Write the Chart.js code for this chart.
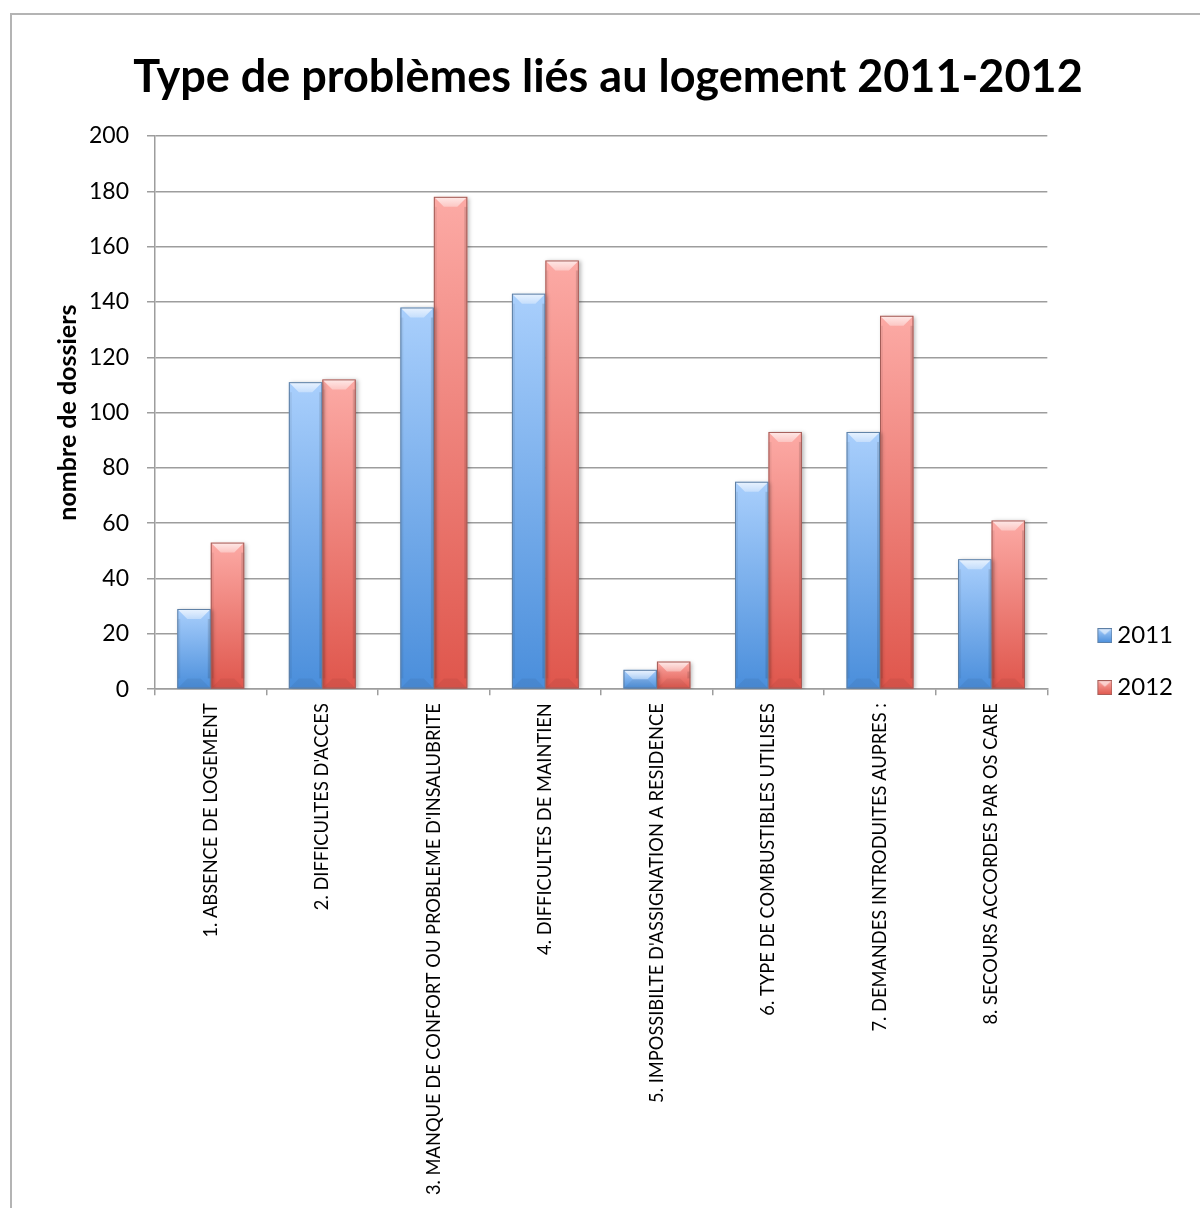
<!DOCTYPE html>
<html>
<head>
<meta charset="utf-8">
<script src="https://cdn.jsdelivr.net/npm/chart.js@4.4.1/dist/chart.umd.min.js"></script>
<style>
  html, body { margin: 0; padding: 0; background: #fff; overflow: hidden; }
  #frame {
    position: absolute; left: 10px; top: 13px;
    width: 1200px; height: 1200px;
    border-left: 2px solid #b4b4b4; border-top: 2px solid #b4b4b4;
  }
  #chart { position: absolute; left: 0; top: 0; }
</style>
</head>
<body>
<div id="frame"><canvas id="chart" width="1188" height="1193"></canvas></div>
<script>
const categories = [
    "1. ABSENCE DE LOGEMENT",
    "2. DIFFICULTES D'ACCES",
    "3. MANQUE DE CONFORT OU PROBLEME D'INSALUBRITE",
    "4. DIFFICULTES DE MAINTIEN",
    "5. IMPOSSIBILTE D'ASSIGNATION A RESIDENCE",
    "6. TYPE DE COMBUSTIBLES UTILISES",
    "7. DEMANDES INTRODUITES AUPRES :",
    "8. SECOURS ACCORDES PAR OS CARE"
];
const values2011 = [29, 111, 138, 143, 7, 75, 93, 47];
const values2012 = [53, 112, 178, 155, 10, 93, 135, 61];
const yTicks = [0, 20, 40, 60, 80, 100, 120, 140, 160, 180, 200];

const FONT = 'Lato, "Open Sans", sans-serif';
const GRID = '#9d9d9d';

// light top / dark bottom / outline for each series
const palette = {
    '2011': { top: '#a9cffc', bottom: '#4a8edb', edge: '#5d7fa5' },
    '2012': { top: '#fcaaa5', bottom: '#df564c', edge: '#a45d58' }
};

// vertical gradient per bar, computed from the bar's own value on the y scale
function barFill(ctx) {
    const c = palette[ctx.dataset.label];
    const chart = ctx.chart;
    if (!chart.chartArea || ctx.type !== 'data' || !chart.scales.y) return c.bottom;
    const top = chart.scales.y.getPixelForValue(ctx.raw);
    const base = chart.scales.y.getPixelForValue(0);
    if (!isFinite(top) || !isFinite(base) || base - top < 1) return c.bottom;
    const g = chart.ctx.createLinearGradient(0, top, 0, base);
    g.addColorStop(0, c.top);
    g.addColorStop(1, c.bottom);
    return g;
}

// bevelled square legend swatch, sitting at the right end of a wider transparent image
const SWATCH = 15, SWATCH_IMG = 44;
function legendSwatch(c) {
    const cv = document.createElement('canvas');
    cv.width = SWATCH_IMG; cv.height = SWATCH;
    const x = cv.getContext('2d');
    const ox = SWATCH_IMG - SWATCH, s = SWATCH;
    const g = x.createLinearGradient(0, 0, 0, s);
    g.addColorStop(0, c.top);
    g.addColorStop(1, c.bottom);
    x.fillStyle = g;
    x.fillRect(ox, 0, s, s);
    x.fillStyle = 'rgba(255,255,255,0.55)';
    x.beginPath();
    x.moveTo(ox, 0); x.lineTo(ox + s, 0); x.lineTo(ox + s / 2, s * 0.45);
    x.closePath(); x.fill();
    x.strokeStyle = c.edge;
    x.lineWidth = 1;
    x.strokeRect(ox + 0.5, 0.5, s - 1, s - 1);
    return cv;
}

// soft shadow behind the bars
const shadowPlugin = {
    id: 'barShadow',
    beforeDatasetsDraw(chart) {
        const ctx = chart.ctx;
        ctx.save();
        ctx.shadowColor = 'rgba(0,0,0,0.28)';
        ctx.shadowBlur = 4;
        ctx.shadowOffsetX = 2;
        ctx.shadowOffsetY = 1;
    },
    afterDatasetsDraw(chart) {
        chart.ctx.restore();
    }
};

// bevel facets on top of each bar
const bevelPlugin = {
    id: 'bevel',
    afterDatasetsDraw(chart) {
        const ctx = chart.ctx;
        chart.data.datasets.forEach((ds, di) => {
            const meta = chart.getDatasetMeta(di);
            const c = palette[ds.label];
            meta.data.forEach(bar => {
                const { x, y, base, width } = bar.getProps(['x', 'y', 'base', 'width'], true);
                const l = x - width / 2, r = x + width / 2;
                const h = base - y;
                if (h < 2) return;
                const d = Math.min(10, h / 2, width / 3);
                ctx.save();
                // top facet
                const tg = ctx.createLinearGradient(0, y, 0, y + d);
                tg.addColorStop(0, 'rgba(255,255,255,0.75)');
                tg.addColorStop(1, 'rgba(255,255,255,0.35)');
                ctx.fillStyle = tg;
                ctx.beginPath();
                ctx.moveTo(l, y); ctx.lineTo(r, y);
                ctx.lineTo(r - d, y + d); ctx.lineTo(l + d, y + d);
                ctx.closePath(); ctx.fill();
                // side facets
                ctx.fillStyle = 'rgba(0,0,0,0.06)';
                ctx.fillRect(l, y + d, 3, h - 2 * d);
                ctx.fillStyle = 'rgba(0,0,0,0.12)';
                ctx.fillRect(r - 3, y + d, 3, h - 2 * d);
                // bottom facet
                ctx.fillStyle = 'rgba(0,0,0,0.05)';
                ctx.beginPath();
                ctx.moveTo(l, base); ctx.lineTo(r, base);
                ctx.lineTo(r - d, base - d); ctx.lineTo(l + d, base - d);
                ctx.closePath(); ctx.fill();
                // outline
                ctx.strokeStyle = c.edge;
                ctx.lineWidth = 1;
                ctx.strokeRect(l + 0.5, y + 0.5, width - 1, h - 1);
                ctx.restore();
            });
        });
    }
};

const chart = new Chart(document.getElementById('chart'), {
    type: 'bar',
    data: {
        labels: categories,
        datasets: [
            { label: '2011', data: values2011, backgroundColor: barFill, borderWidth: 0 },
            { label: '2012', data: values2012, backgroundColor: barFill, borderWidth: 0 }
        ]
    },
    options: {
        responsive: false,
        animation: false,
        categoryPercentage: 0.6,
        barPercentage: 1.0,
        layout: { padding: { left: 21, right: 17, bottom: 5 } },
        scales: {
            x: {
                grid: { drawOnChartArea: false, tickLength: 6, color: GRID, lineWidth: 1.5 },
                border: { color: GRID, width: 1.5 },
                ticks: {
                    autoSkip: false, maxRotation: 90, minRotation: 90, padding: 8,
                    color: '#000', font: { family: FONT, size: 18.3 }
                }
            },
            y: {
                min: 0, max: 200,
                afterBuildTicks: s => { s.ticks = yTicks.map(v => ({ value: v })); },
                // fixed axis width: title + labels + tick marks
                afterFit: s => { s.width = 122; },
                grid: { color: GRID, lineWidth: 1.5, tickLength: 8 },
                border: { color: GRID, width: 1.5 },
                ticks: { color: '#000', padding: 18, font: { family: FONT, size: 23 } },
                title: {
                    display: true, text: 'nombre de dossiers', color: '#000',
                    font: { family: FONT, size: 25, weight: 'bold' }, padding: { top: 20, bottom: 4 }
                }
            }
        },
        plugins: {
            title: {
                display: true,
                text: 'Type de problèmes liés au logement 2011-2012',
                color: '#000',
                font: { family: FONT, size: 45, weight: 'bold' },
                padding: { top: 35, bottom: 32 }
            },
            legend: {
                position: 'right',
                title: { display: true, text: ' ', font: { size: 1 }, padding: { top: 104, bottom: 0 } },
                labels: {
                    color: '#000',
                    font: { family: FONT, size: 24 },
                    usePointStyle: true,
                    pointStyleWidth: 30,
                    padding: 28,
                    generateLabels: ch => ch.data.datasets.map((ds, i) => ({
                        text: ds.label,
                        pointStyle: legendSwatch(palette[ds.label]),
                        fillStyle: palette[ds.label].bottom,
                        strokeStyle: palette[ds.label].edge,
                        lineWidth: 0,
                        hidden: !ch.isDatasetVisible(i),
                        datasetIndex: i,
                        fontColor: '#000'
                    }))
                }
            },
            tooltip: { enabled: false }
        }
    },
    plugins: [shadowPlugin, bevelPlugin]
});
</script>
</body>
</html>
